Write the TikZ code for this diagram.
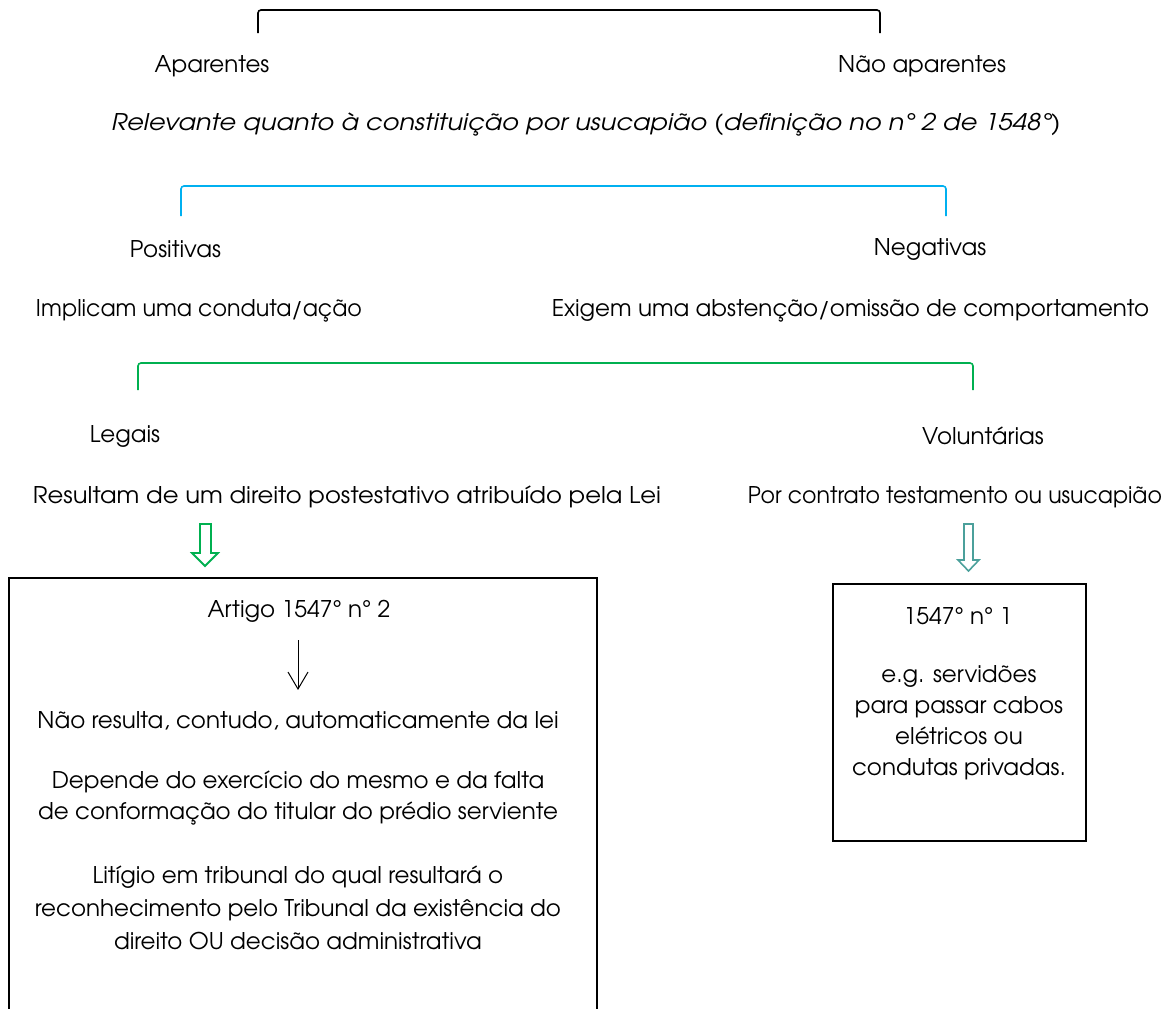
\documentclass[tikz,border=0pt]{standalone}
\usepackage{fontspec}
\usepackage{graphicx}
\setmainfont{TeX Gyre Adventor}
\definecolor{bluebr}{RGB}{0,176,240}
\definecolor{greenbr}{RGB}{0,176,80}
\definecolor{tealar}{RGB}{75,160,155}
% set a line of text to a given width, keeping its height
\newcommand{\fitw}[2]{\resizebox{#1pt}{\height}{#2}}
\begin{document}
\begin{tikzpicture}[x=1pt,y=-1pt,
  lbl/.style={inner sep=0pt,anchor=center,font=\fontsize{23}{27}\selectfont},
  bracket/.style={line width=1.6pt,rounded corners=3pt},
  hollow/.style={line width=1.8pt,line join=miter}]
\useasboundingbox (0,0) rectangle (1170,1009);

% first division
\coordinate (b1l) at (258,33); \coordinate (b1r) at (880,33);
\draw[bracket] (b1l) -- ++(0,-23) -| (b1r);
\node[lbl] (apar) at (212,66) {Aparentes};
\node[lbl] (napar) at (922,66) {Não aparentes};
\node[lbl,font=\fontsize{23}{27}\selectfont\itshape] (rel) at (586,125)
  {\fitw{949}{Relevante quanto à constituição por usucapião (definição no n° 2 de 1548°)}};

% second division
\coordinate (b2l) at (181,216); \coordinate (b2r) at (946,216);
\draw[bracket,bluebr] (b2l) -- ++(0,-30) -| (b2r);
\node[lbl] (pos) at (175.5,249) {Positivas};
\node[lbl] (neg) at (930,249) {Negativas};
\node[lbl] (posd) at (199,311) {\fitw{326}{Implicam uma conduta/ação}};
\node[lbl] (negd) at (850.5,311) {Exigem uma abstenção/omissão de comportamento};

% third division
\coordinate (b3l) at (138,390); \coordinate (b3r) at (973,390);
\draw[bracket,greenbr] (b3l) -- ++(0,-27) -| (b3r);
\node[lbl] (leg) at (125,436) {Legais};
\node[lbl] (vol) at (983,436) {Voluntárias};
\node[lbl] (legd) at (347,497) {\fitw{628}{Resultam de um direito postestativo atribuído pela Lei}};
\node[lbl] (vold) at (955,497) {\fitw{414}{Por contrato testamento ou usucapião}};

% hollow arrows
\draw[hollow,greenbr] (200,524) -- (211,524) -- (211,553) -- (218,553) -- (205,566)
  -- (192,553) -- (200,553) -- cycle;
\draw[hollow,tealar,line width=1.6pt] (964,524) -- (973,524) -- (973,560) -- (979,560)
  -- (968.5,571) -- (958,560) -- (964,560) -- cycle;

% left box, open at the bottom
\draw[line width=1.4pt] (9,1012) -- (9,578) -- (597,578) -- (597,1012);
\node[lbl] (art) at (299,611) {Artigo 1547° n° 2};
\coordinate (arrs) at (298,640); \coordinate (arre) at (298,689);
\draw[line width=1pt] (arrs) -- (arre);
\draw[line width=1pt] (288,672) -- (arre) -- (308,672);
\node[lbl] (nres) at (298,721) {Não resulta, contudo, automaticamente da lei};
\node[lbl,align=center,font=\fontsize{23}{30.5}\selectfont] (dep) at (298,798)
  {Depende do exercício do mesmo e da falta\\
   de conformação do titular do prédio serviente};
\node[lbl,align=center,font=\fontsize{23}{33}\selectfont] (lit) at (298,908)
  {Litígio em tribunal do qual resultará o\\
   reconhecimento pelo Tribunal da existência do\\
   direito OU decisão administrativa};

% right box
\draw[line width=1.4pt] (833,584) rectangle (1086,841);
\node[lbl] (art1) at (958,616) {1547° n° 1};
\node[lbl,align=center,font=\fontsize{23}{31}\selectfont] (eg) at (959,723)
  {e.g. servidões\\
   para passar cabos\\
   elétricos ou\\
   condutas privadas.};
\end{tikzpicture}
\end{document}
